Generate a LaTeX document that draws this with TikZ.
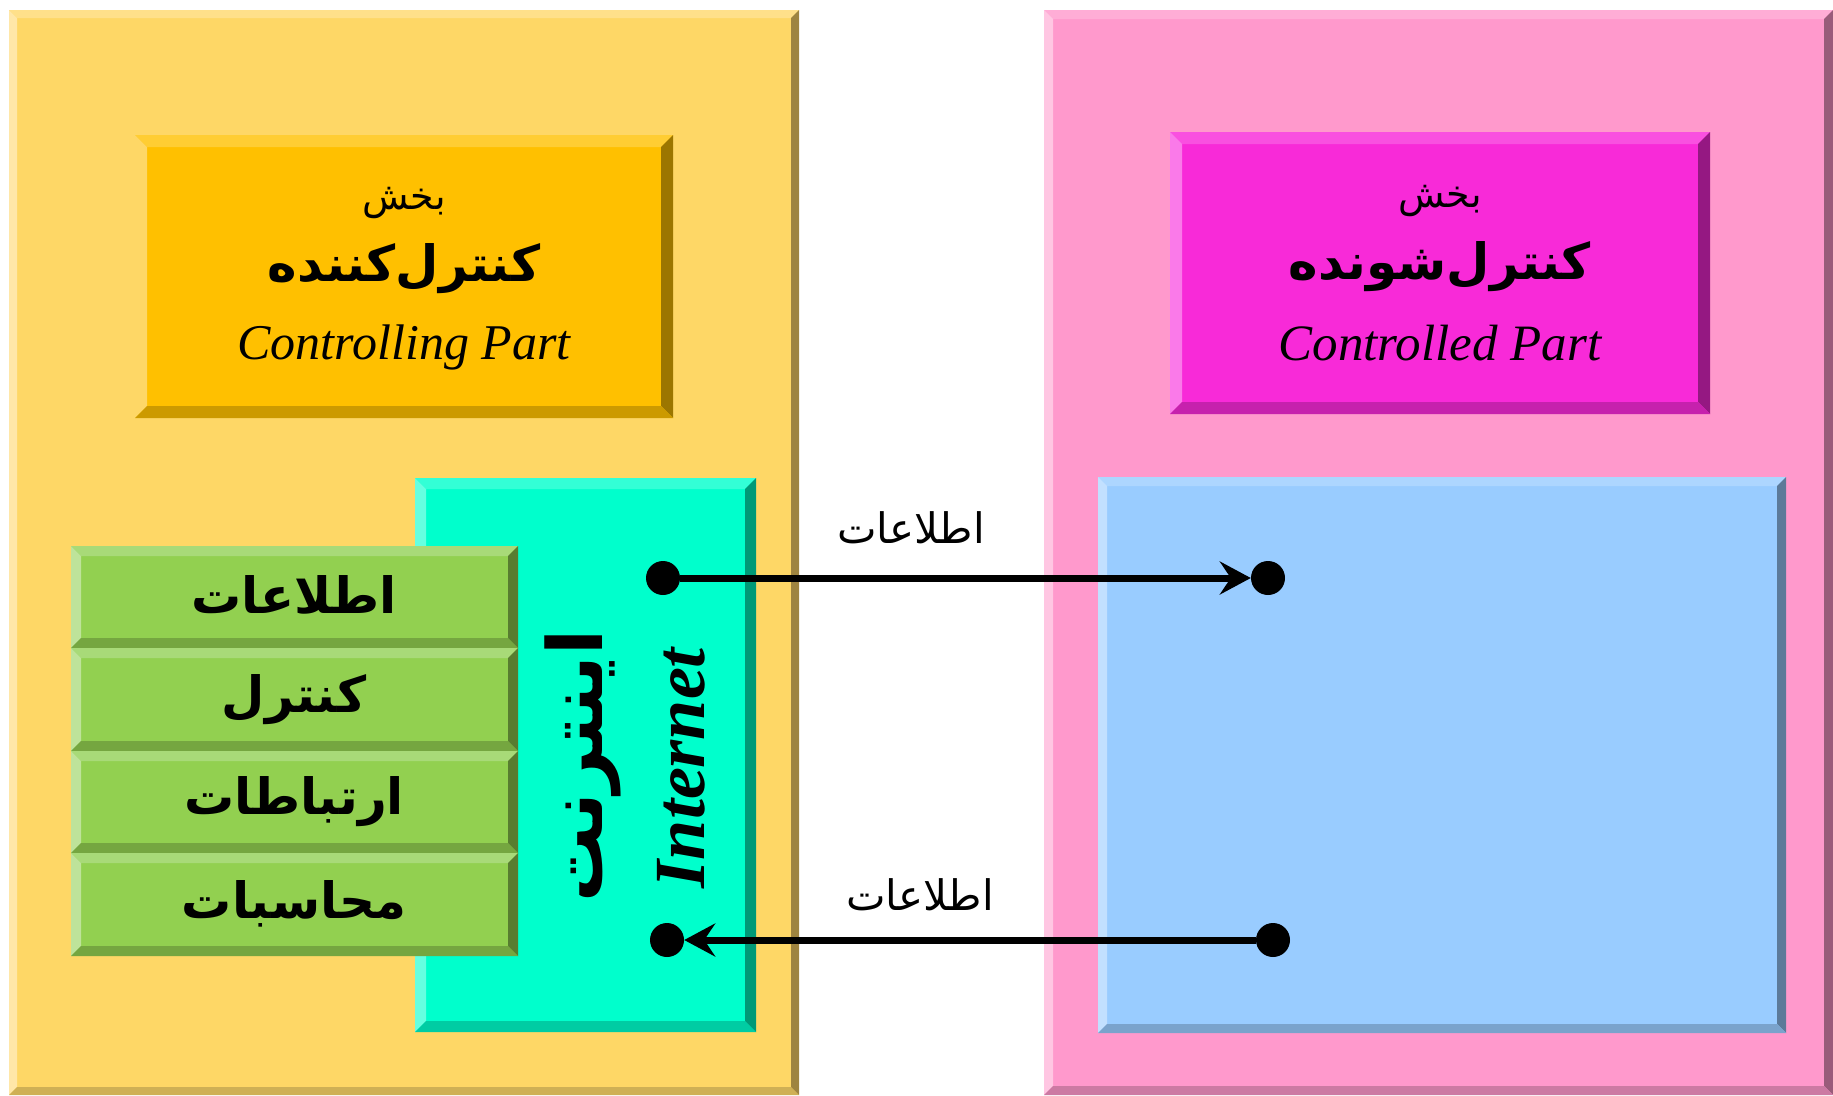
\documentclass[tikz,border=0pt]{standalone}
\usepackage{fontspec}
\setmainfont{Liberation Serif}
\newfontfamily\fa[Script=Arabic]{DejaVu Sans}
\TeXXeTstate=1
\usetikzlibrary{fit,arrows.meta}
% colours: F face, T top, L left, R right, B bottom
\definecolor{yelF}{HTML}{FED766}\definecolor{yelT}{HTML}{FFE08A}\definecolor{yelL}{HTML}{FFE7A8}\definecolor{yelR}{HTML}{9E8440}\definecolor{yelB}{HTML}{CFB055}
\definecolor{pnkF}{HTML}{FF99CC}\definecolor{pnkT}{HTML}{FFADD6}\definecolor{pnkL}{HTML}{FFC6E2}\definecolor{pnkR}{HTML}{995C7A}\definecolor{pnkB}{HTML}{CC7AA3}
\definecolor{orgF}{HTML}{FFC000}\definecolor{orgT}{HTML}{FFCD33}\definecolor{orgL}{HTML}{FED766}\definecolor{orgR}{HTML}{9C7600}\definecolor{orgB}{HTML}{CC9A00}
\definecolor{magF}{HTML}{F82AD8}\definecolor{magT}{HTML}{F950E0}\definecolor{magL}{HTML}{FA7AE9}\definecolor{magR}{HTML}{951882}\definecolor{magB}{HTML}{C621AD}
\definecolor{cynF}{HTML}{00FFCC}\definecolor{cynT}{HTML}{33FFD6}\definecolor{cynL}{HTML}{66FFE0}\definecolor{cynR}{HTML}{009977}\definecolor{cynB}{HTML}{00CCA3}
\definecolor{grnF}{HTML}{92D050}\definecolor{grnT}{HTML}{A8DA78}\definecolor{grnL}{HTML}{BEE39A}\definecolor{grnR}{HTML}{587D30}\definecolor{grnB}{HTML}{75A640}
\definecolor{bluF}{HTML}{99CCFF}\definecolor{bluT}{HTML}{ADD6FF}\definecolor{bluL}{HTML}{C2E0FF}\definecolor{bluR}{HTML}{5C7A99}\definecolor{bluB}{HTML}{7AA3CC}
\newcommand\bevbox[7]{%
 \fill[#7F] (#2,-#3) rectangle (#4,-#5);
 \fill[#7T] (#2,-#3) -- (#4,-#3) -- ({#4-#6},{-#3-#6}) -- ({#2+#6},{-#3-#6}) -- cycle;
 \fill[#7L] (#2,-#3) -- ({#2+#6},{-#3-#6}) -- ({#2+#6},{-#5+#6}) -- (#2,-#5) -- cycle;
 \fill[#7R] (#4,-#3) -- ({#4-#6},{-#3-#6}) -- ({#4-#6},{-#5+#6}) -- (#4,-#5) -- cycle;
 \fill[#7B] (#2,-#5) -- ({#2+#6},{-#5+#6}) -- ({#4-#6},{-#5+#6}) -- (#4,-#5) -- cycle;
 \node[fit={(#2,-#3)(#4,-#5)}, inner sep=0pt] (#1) {};}
\tikzset{
 dot/.style={circle, fill=black, inner sep=0pt, minimum size=34pt},
 flow/.style={line width=7pt, -{Stealth[length=31pt,width=33pt,inset=11pt]}},
 txt/.style={inner sep=0pt, text=black},
}
\begin{document}
\begin{tikzpicture}[x=1pt,y=1pt]
\useasboundingbox (0,0) rectangle (1833,-1095);
% outer panels
\bevbox{yel}{9}{10}{799}{1095}{8}{yel}
\bevbox{pnk}{1044}{10}{1833}{1095}{9}{pnk}
% title boxes
\bevbox{org}{135}{135}{673}{418}{12}{org}
\bevbox{mag}{1170}{132}{1710}{414}{12}{mag}
% internet and controlled boxes
\bevbox{cyn}{415}{478}{756}{1032}{11}{cyn}
\bevbox{blu}{1098}{477}{1786}{1033}{9}{blu}
% green stack
\bevbox{g1}{71}{546}{518}{648}{10}{grn}
\bevbox{g2}{71}{648}{518}{751}{10}{grn}
\bevbox{g3}{71}{751}{518}{853}{10}{grn}
\bevbox{g4}{71}{853}{518}{956}{10}{grn}
% title texts
\node[txt] (o1) at (404,-203) {\fa\fontsize{38}{44}\selectfont\beginR بخش\endR};
\node[txt] (o2) at (404,-269) {\fa\bfseries\fontsize{50}{58}\selectfont\beginR کنترل^^^^200cکننده\endR};
\node[txt] (o3) at (404,-347) {\itshape\fontsize{50}{58}\selectfont Controlling Part};
\node[txt] (m1) at (1440,-201) {\fa\fontsize{38}{44}\selectfont\beginR بخش\endR};
\node[txt] (m2) at (1440,-267) {\fa\bfseries\fontsize{50}{58}\selectfont\beginR کنترل^^^^200cشونده\endR};
\node[txt] (m3) at (1440,-343) {\itshape\fontsize{51}{59}\selectfont Controlled Part};
% green labels
\node[txt] (l1) at (294,-595) {\fa\bfseries\fontsize{50}{58}\selectfont\beginR اطلاعات\endR};
\node[txt] (l2) at (294,-700) {\fa\bfseries\fontsize{50}{58}\selectfont\beginR کنترل\endR};
\node[txt] (l3) at (294,-802) {\fa\bfseries\fontsize{50}{58}\selectfont\beginR ارتباطات\endR};
\node[txt] (l4) at (294,-904) {\fa\bfseries\fontsize{50}{58}\selectfont\beginR محاسبات\endR};
% rotated internet labels
\node[txt, rotate=90] (i1) at (583,-766) {\fa\bfseries\fontsize{76}{84}\selectfont\beginR اینترنت\endR};
\node[txt, rotate=90] (i2) at (681,-768) {\bfseries\itshape\fontsize{72}{80}\selectfont Internet};
% dots and arrows
\node[dot] (a1) at (663,-578) {};
\node[dot] (a2) at (1268,-578) {};
\node[dot] (b1) at (1273,-940) {};
\node[dot] (b2) at (667,-940) {};
\draw[flow] (a1) -- (a2);
\draw[flow] (b1) -- (b2);
\node[txt] (la) at (911,-528) {\fa\fontsize{42}{48}\selectfont\beginR اطلاعات\endR};
\node[txt] (lb) at (920,-895) {\fa\fontsize{42}{48}\selectfont\beginR اطلاعات\endR};
\end{tikzpicture}
\end{document}
